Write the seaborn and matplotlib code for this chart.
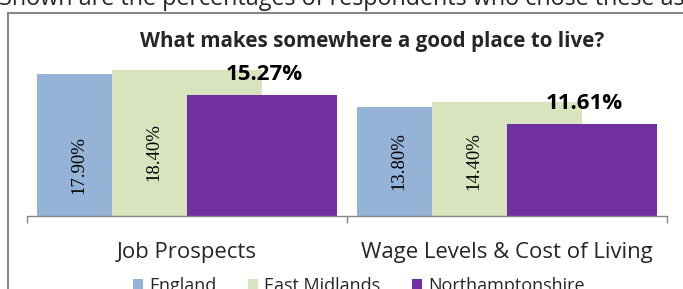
import matplotlib
matplotlib.use("Agg")
import matplotlib.pyplot as plt
from matplotlib.patches import Patch, Rectangle
import seaborn as sns
import pandas as pd

categories = ["Job Prospects", "Wage Levels & Cost of Living"]
regions = ["England", "East Midlands", "Northamptonshire"]
england = [17.90, 13.80]
east_midlands = [18.40, 14.40]
northamptonshire = [15.27, 11.61]

colors = ["#95B3D7", "#D7E4BD", "#7030A0"]
# where the rotated labels sit, as a fraction of the bar height
label_frac = [[0.36, 0.435], [0.50, 0.48]]

df = pd.DataFrame({
    "category": categories * 3,
    "region": [r for r in regions for _ in categories],
    "value": england + east_midlands + northamptonshire,
})

sns.set_style("white")
plt.rcParams["font.family"] = ["Open Sans", "DejaVu Sans"]

fig = plt.figure(figsize=(6.83, 2.89), dpi=100)
W, H = 683, 289
ax = fig.add_axes([27 / W, (H - 216) / H, 640 / W, 158.6 / H])

sns.barplot(data=df, x="category", y="value", hue="region", hue_order=regions,
            order=categories, palette=colors, width=0.7, ax=ax, legend=False,
            saturation=1, linewidth=0)

# Excel-style overlapping bars: each bar twice the dodge step
step = 75 / 320
bar_w = 150 / 320
for k, cont in enumerate(ax.containers):
    for j, bar in enumerate(cont):
        bar.set_x(j - bar_w + k * step)
        bar.set_width(bar_w)
        val = bar.get_height()
        if k < 2:
            xc = j - bar_w + k * step + step / 2 + 0.014
            ax.text(xc, val * label_frac[j][k], f"{val:.2f}%", rotation=90,
                    ha="center", va="center", fontsize=13.5,
                    family="Liberation Serif", color="#000000")
        else:
            ax.annotate(f"{val:.2f}%", (bar.get_x() + bar_w / 2 + 0.007, val),
                        xytext=(0, 14.5), textcoords="offset points",
                        ha="center", va="center", fontsize=16,
                        fontweight="bold", color="#000000")

ax.set_xlim(-0.5, 1.5)
ax.set_ylim(0, 20)
ax.set_yticks([])
ax.set_xlabel("")
ax.set_ylabel("")
for s in ["left", "right", "top"]:
    ax.spines[s].set_visible(False)
ax.spines["bottom"].set_color("#868686")
ax.spines["bottom"].set_linewidth(1.0)
ax.set_xticks([0, 1], categories)
ax.set_xticks([-0.5, 0.5, 1.5], minor=True)
ax.tick_params(axis="x", which="major", length=0, pad=19, labelsize=15.9)
ax.tick_params(axis="x", which="minor", length=5, color="#868686", width=1,
               direction="out", bottom=True)

fig.text(372 / W, 1 - 41 / H, "What makes somewhere a good place to live?",
         ha="center", va="center", fontsize=14.9, fontweight="bold")

fig.text(-1 / W, 1 - 5 / H,
         "Shown are the percentages of respondents who chose these as",
         ha="left", va="baseline", fontsize=16.8)

fig.patches.append(Rectangle((8 / W, -0.1), 1.0, 1 - 13 / H + 0.1,
                             transform=fig.transFigure, fill=False,
                             edgecolor="#868686", linewidth=1.5))

handles = [Patch(facecolor=c, edgecolor="none") for c in colors]
fig.legend(handles, regions, loc="center", bbox_to_anchor=(359 / W, 1 - 286 / H),
           ncol=3, frameon=False, fontsize=13, handlelength=0.55,
           handleheight=0.55, handletextpad=0.35, columnspacing=1.75,
           borderpad=0)

fig.savefig("out.png", dpi=100)
